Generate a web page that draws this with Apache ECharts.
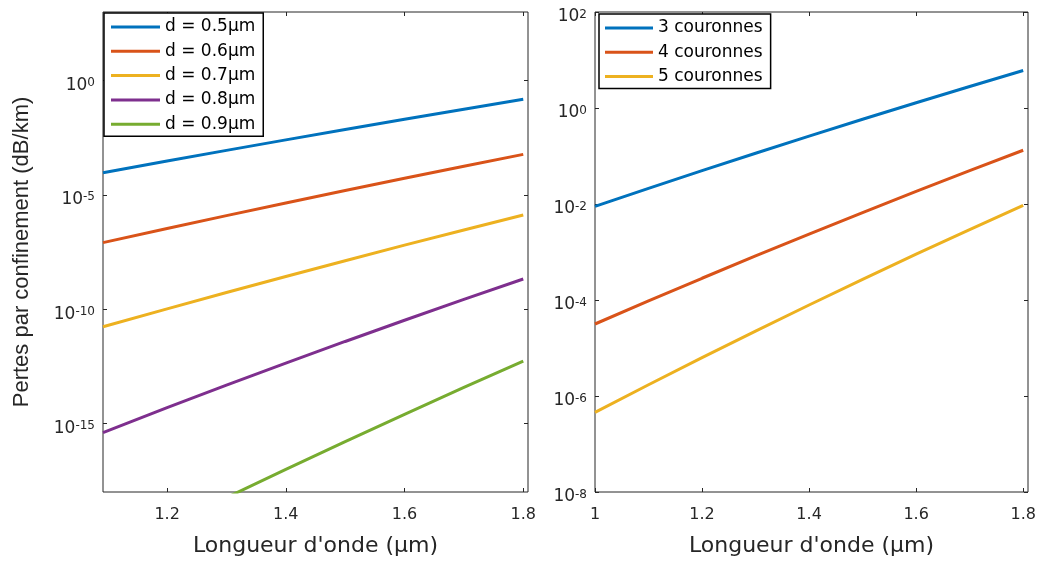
<!DOCTYPE html>
<html>
<head>
<meta charset="utf-8">
<script src="https://cdn.jsdelivr.net/npm/echarts@6/dist/echarts.min.js"></script>
<style>
  html, body { margin: 0; padding: 0; background: #ffffff; }
  #chart { width: 1042px; height: 562px; }
</style>
</head>
<body>
<div id="chart"></div>
<script>
// Wavelength samples (µm), hole-diameter study
const wavelengthHoles = [1.092, 1.2, 1.3, 1.4, 1.5, 1.6, 1.7, 1.8];
// log10 of confinement loss (dB/km) for each hole diameter d
const logLossD05 = [-4.030, -3.517, -3.053, -2.594, -2.142, -1.695, -1.255, -0.820];
const logLossD06 = [-7.090, -6.474, -5.908, -5.353, -4.807, -4.271, -3.746, -3.230];
const logLossD07 = [-10.770, -9.987, -9.273, -8.570, -7.880, -7.201, -6.535, -5.880];
const logLossD08 = [-15.400, -14.309, -13.326, -12.361, -11.414, -10.485, -9.574, -8.681];
const logLossD09 = [-20.880, -19.500, -18.245, -17.010, -15.795, -14.600, -13.425, -12.270];

// Wavelength samples (µm), ring-count study
const wavelengthRings = [1.0, 1.1, 1.2, 1.3, 1.4, 1.5, 1.6, 1.7, 1.8];
// log10 of confinement loss (dB/km) for each number of air-hole rings
const logLoss3Rings = [-2.050, -1.675, -1.306, -0.943, -0.586, -0.235, 0.110, 0.449, 0.782];
const logLoss4Rings = [-4.500, -4.020, -3.547, -3.083, -2.626, -2.178, -1.737, -1.305, -0.880];
const logLoss5Rings = [-6.340, -5.766, -5.202, -4.648, -4.104, -3.570, -3.046, -2.532, -2.028];

const holeNames = ['d = 0.5µm', 'd = 0.6µm', 'd = 0.7µm', 'd = 0.8µm', 'd = 0.9µm'];
const ringNames = ['3 couronnes', '4 couronnes', '5 couronnes'];

// Tick positions (x in µm, y as decade exponents)
const xTicksHoles = [1.2, 1.4, 1.6, 1.8];
const xTicksRings = [1, 1.2, 1.4, 1.6, 1.8];
const yTicksHoles = [-15, -10, -5, 0];
const yTicksRings = [-8, -6, -4, -2, 0, 2];

const FONT = 'DejaVu Sans';
const INK = '#262626';
const COLORS = ['#0072BD', '#D95319', '#EDB120', '#7E2F8E', '#77AC30'];

function tickStyle(ticks) {
  return { inside: true, length: 4, customValues: ticks, lineStyle: { color: INK, width: 1 } };
}

function xAxes(gridIndex, min, max, ticks) {
  return [
    {
      type: 'value', gridIndex, position: 'bottom', min, max,
      name: "Longueur d'onde (µm)", nameLocation: 'middle', nameGap: 43,
      nameTextStyle: { fontFamily: FONT, fontSize: 22, color: INK },
      axisLine: { show: false, onZero: false }, splitLine: { show: false },
      axisTick: tickStyle(ticks),
      axisLabel: {
        customValues: ticks, margin: 15, fontFamily: FONT, fontSize: 16, color: INK,
        formatter: v => String(Math.round(v * 10) / 10)
      }
    },
    {
      type: 'value', gridIndex, position: 'top', min, max,
      axisLine: { show: false, onZero: false }, splitLine: { show: false },
      axisTick: tickStyle(ticks), axisLabel: { show: false }
    }
  ];
}

function yAxes(gridIndex, min, max, ticks, withName) {
  const left = {
    type: 'value', gridIndex, position: 'left', min, max,
    axisLine: { show: false, onZero: false }, splitLine: { show: false },
    axisTick: tickStyle(ticks),
    axisLabel: {
      customValues: ticks, margin: 8, padding: [10, 0, 0, 0],
      formatter: v => '{b|10}{s|' + v + '}',
      rich: {
        b: { fontFamily: FONT, fontSize: 17, lineHeight: 17, verticalAlign: 'bottom', color: INK },
        s: { fontFamily: FONT, fontSize: 12, lineHeight: 12, padding: [0, 0, 10, 0], verticalAlign: 'top', color: INK }
      }
    }
  };
  if (withName) {
    left.name = 'Pertes par confinement (dB/km)';
    left.nameLocation = 'middle';
    left.nameGap = 70;
    left.nameTextStyle = { fontFamily: 'Liberation Sans', fontSize: 22, color: INK };
  }
  return [
    left,
    {
      type: 'value', gridIndex, position: 'right', min, max,
      axisLine: { show: false, onZero: false }, splitLine: { show: false },
      axisTick: tickStyle(ticks), axisLabel: { show: false }
    }
  ];
}

function lineSeries(name, xs, ys, color, axisIndex) {
  return {
    type: 'line', name,
    xAxisIndex: axisIndex, yAxisIndex: axisIndex,
    data: xs.map((x, i) => [x, ys[i]]),
    symbol: 'none', showSymbol: false, clip: true,
    itemStyle: { color },
    lineStyle: { color, width: 3 },
    emphasis: { disabled: true }
  };
}

function legend(names, left, top, itemWidth, padding) {
  return {
    data: names, orient: 'vertical', left, top,
    icon: 'rect', itemWidth, itemHeight: 3, itemGap: 6.3,
    padding, borderColor: '#000000', borderWidth: 1.5, backgroundColor: '#ffffff',
    textStyle: { fontFamily: FONT, fontSize: 17, color: '#000000', lineHeight: 18 },
    selectedMode: false
  };
}

const holeSeries = [logLossD05, logLossD06, logLossD07, logLossD08, logLossD09];
const ringSeries = [logLoss3Rings, logLoss4Rings, logLoss5Rings];

const option = {
  animation: false,
  backgroundColor: '#ffffff',
  grid: [
    { left: 103, top: 12, width: 425, height: 480, show: true, borderColor: INK, borderWidth: 1 },
    { left: 595, top: 12, width: 433, height: 480, show: true, borderColor: INK, borderWidth: 1 }
  ],
  legend: [
    legend(holeNames, 104, 13, 49, [5, 8, 3, 7]),
    legend(ringNames, 599, 14, 48, [5, 8, 3, 6])
  ],
  // axes 0,1: left plot (bottom/top, left/right); axes 2,3: right plot
  xAxis: [
    ...xAxes(0, 1.092, 1.808, xTicksHoles),
    ...xAxes(1, 1.0, 1.809, xTicksRings)
  ],
  yAxis: [
    ...yAxes(0, -18, 3, yTicksHoles, true),
    ...yAxes(1, -8, 2, yTicksRings, false)
  ],
  series: [
    ...holeSeries.map((ys, i) => lineSeries(holeNames[i], wavelengthHoles, ys, COLORS[i], 0)),
    ...ringSeries.map((ys, i) => lineSeries(ringNames[i], wavelengthRings, ys, COLORS[i], 2))
  ]
};

const chart = echarts.init(document.getElementById('chart'), null, { renderer: 'canvas' });
chart.setOption(option);
</script>
</body>
</html>
